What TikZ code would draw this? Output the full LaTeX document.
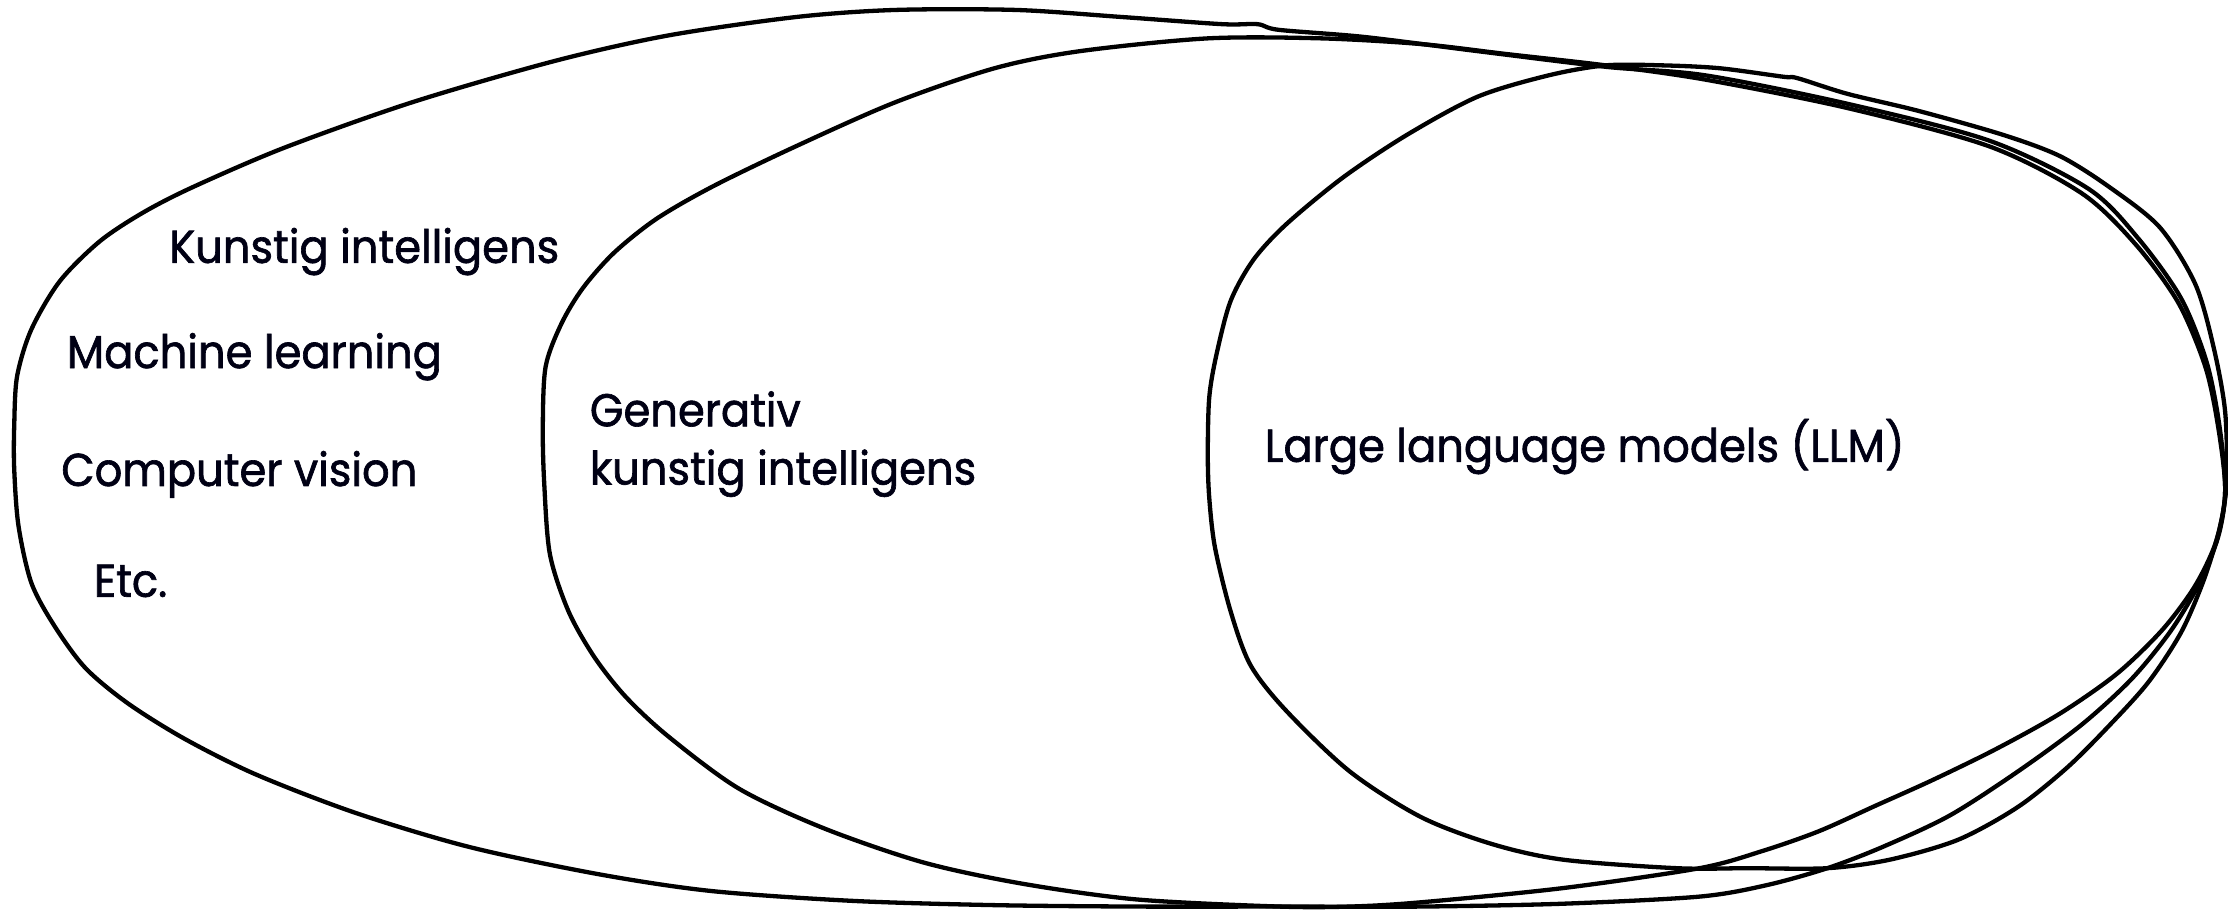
\documentclass[tikz,border=0pt]{standalone}
\usepackage{fontspec}
\setmainfont{Poppins}[FakeStretch=0.94,FakeBold=1.4]
\begin{document}
\begin{tikzpicture}[x=1.421pt,y=-1.421pt,
  blob/.style={draw=black,line width=4.3pt,line join=round},
  lbl/.style={inner sep=0pt,anchor=base west,font=\fontsize{46}{56}\selectfont,text=black!92!blue}]
\useasboundingbox (0,0) rectangle (1568,640);
% Kunstig intelligens (outer)
\draw[blob] plot[smooth cycle,tension=0.5] coordinates {
(10,300) (12,265) (22,232) (42,198) (70,170) (100,150) (135,132) (200,104) (290,72) (390,43) (470,25) (560,12) (630,7) (715,7) (790,12) (860,17) (885,17) (900,21) (960,26) (1040,36) (1130,47) (1200,53) (1300,73) (1400,99) (1470,133) (1505,168) (1535,210) (1553,255) (1562,300) (1566,345) (1561,378) (1547,412) (1527,445) (1500,478) (1465,510) (1420,543) (1372,574) (1325,596) (1286,611) (1243,623) (1196,631) (1100,636) (1000,638) (900,638) (800,638) (700,637) (600,634) (500,627) (420,615) (330,596) (250,572) (180,545) (130,520) (90,495) (60,470) (38,440) (22,410) (13,370) (10,330)};
% Generativ kunstig intelligens
\draw[blob] plot[smooth cycle,tension=0.5] coordinates {
(382,300) (384,258) (395,228) (410,203) (432,178) (462,154) (502,131) (560,103) (630,72) (700,48) (760,36) (850,27) (930,27) (1000,31) (1060,38) (1130,46) (1200,56) (1300,76) (1400,103) (1465,136) (1503,172) (1533,213) (1552,258) (1561,300) (1566,345) (1560,380) (1545,412) (1522,443) (1490,474) (1450,502) (1405,527) (1360,549) (1320,567) (1280,585) (1240,599) (1196,611) (1100,625) (1000,635) (950,638) (900,638) (800,633) (720,622) (650,607) (580,583) (520,555) (470,518) (440,490) (418,462) (400,430) (387,390) (383,340)};
% LLM
\draw[blob] plot[smooth cycle,tension=0.5] coordinates {
(850,320) (851,280) (856,250) (866,212) (882,183) (905,158) (945,125) (990,95) (1040,68) (1090,53) (1130,46) (1170,46) (1210,48) (1255,54) (1265,55) (1300,66) (1350,78) (1410,95) (1450,110) (1485,132) (1520,160) (1545,200) (1558,245) (1566,290) (1567,340) (1562,372) (1551,408) (1535,445) (1512,480) (1485,510) (1455,540) (1420,568) (1378,591) (1330,605) (1286,611) (1230,611) (1180,611) (1100,605) (1050,594) (1000,575) (950,543) (905,500) (880,468) (866,430) (855,385) (851,350)};
\node[lbl] (ki) at (119,185) {Kunstig intelligens};
\node[lbl] (ml) at (47,259) {Machine learning};
\node[lbl] (cv) at (43,342) {Computer vision};
\node[lbl] (etc) at (66,420) {Etc.};
\node[lbl] (gen) at (415,300) {Generativ};
\node[lbl] (kig) at (415,341) {kunstig intelligens};
\node[lbl] (llm) at (890,325) {Large language models (LLM)};
\end{tikzpicture}
\end{document}
